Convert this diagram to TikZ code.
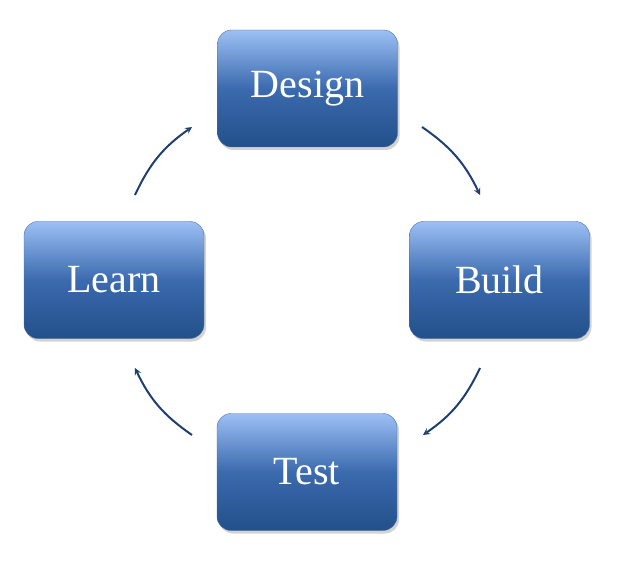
\documentclass[tikz,border=0pt]{standalone}
\usepackage{fontspec}
\setmainfont{Liberation Serif}
\usetikzlibrary{shadows}
\definecolor{boxtop}{HTML}{9CC0F5}
\definecolor{boxmid}{HTML}{3B6AAE}
\definecolor{boxbot}{HTML}{22508A}
\definecolor{arrowblue}{HTML}{1F3F70}
\tikzset{
  stage/.style={rounded corners=14pt, minimum width=180pt, minimum height=117pt,
    top color=boxtop, bottom color=boxbot, middle color=boxmid, draw=boxbot!80,
    text=white, font=\fontsize{40}{46}\selectfont,
    drop shadow={shadow xshift=2pt, shadow yshift=-3pt, opacity=0.35}},
  cycle/.style={arrowblue, line width=2pt, ->, >=stealth}
}
\begin{document}
\begin{tikzpicture}[x=1pt,y=-1pt]
    \useasboundingbox (0,0) rectangle (621,561);
    \node[stage] (design) at (307.5,88.5) {Design};
    \node[stage] (build) at (499.5,280) {Build};
    \node[stage] (learn) at (114,280) {Learn};
    \node[stage] (test) at (307,472) {Test};
    % arrows around the cycle
    \coordinate (a1) at (422,127); \coordinate (a2) at (480,195);
    \coordinate (b1) at (480,368); \coordinate (b2) at (423,435);
    \coordinate (c1) at (192,435); \coordinate (c2) at (135,368);
    \coordinate (d1) at (135,195); \coordinate (d2) at (192,127);
    \draw[cycle] (a1) to[bend left=15] (a2);
    \draw[cycle] (b1) to[bend left=15] (b2);
    \draw[cycle] (c1) to[bend left=15] (c2);
    \draw[cycle] (d1) to[bend left=15] (d2);
\end{tikzpicture}
\end{document}
